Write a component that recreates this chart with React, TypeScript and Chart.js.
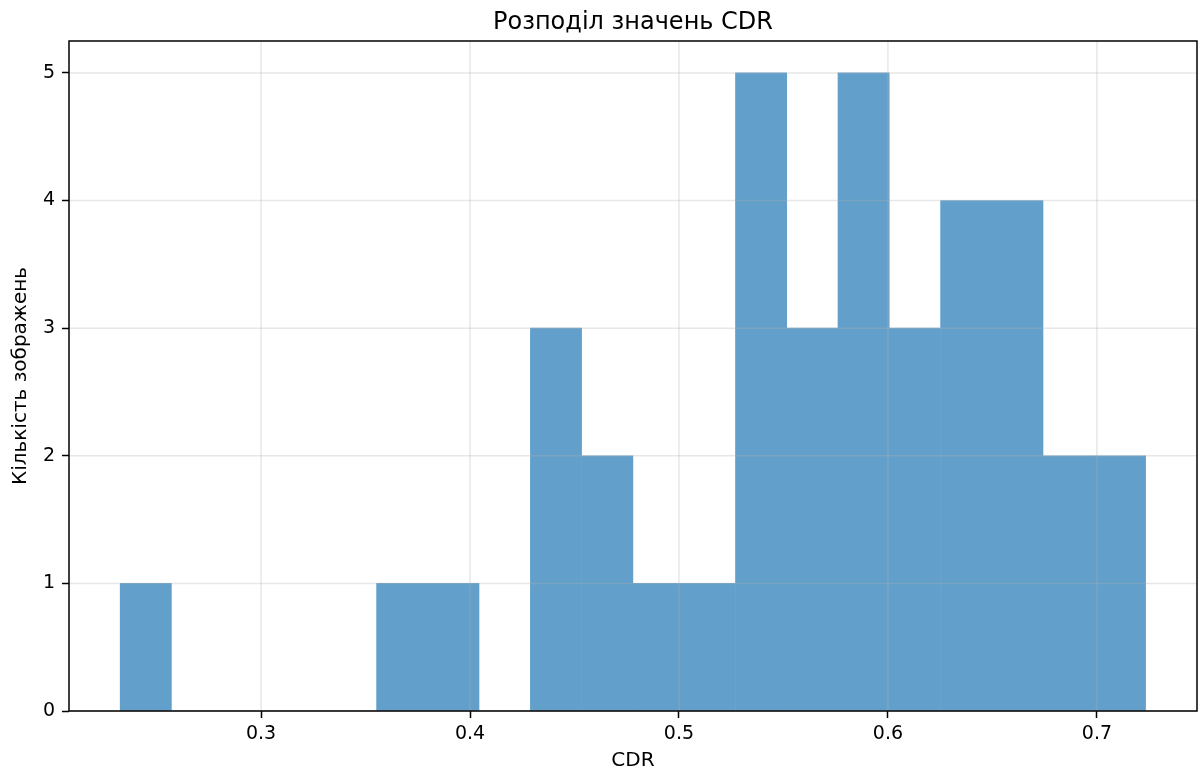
import React, { useEffect, useRef } from "react";
import { Chart, registerables } from "chart.js";

Chart.register(...registerables);

const chartTitle = "Розподіл значень CDR";
const xLabel = "CDR";
const yLabel = "Кількість зображень";

// histogram bin edges (20 bins)
const binEdges = [
  0.2326, 0.2571, 0.2817, 0.3062, 0.3307, 0.3553, 0.3798, 0.4043, 0.4289, 0.4534,
  0.478, 0.5025, 0.527, 0.5516, 0.5761, 0.6006, 0.6252, 0.6497, 0.6742, 0.6988, 0.7233,
];
// counts per bin
const counts = [1, 0, 0, 0, 0, 1, 1, 0, 3, 2, 1, 1, 5, 3, 5, 3, 4, 4, 2, 2];

const xTicks = [0.3, 0.4, 0.5, 0.6, 0.7];
const yTicks = [0, 1, 2, 3, 4, 5];
const xMin = 0.2081;
const xMax = 0.7479;
const yMin = 0;
const yMax = 5.25;

const FONT = "DejaVu Sans";

const framePlugin = {
  id: "frame",
  afterDatasetsDraw(chart: any) {
    const { ctx, chartArea } = chart;
    const { left, right, top, bottom } = chartArea;
    const xs = chart.scales.x;
    const ys = chart.scales.y;
    ctx.save();
    ctx.strokeStyle = "rgba(176,176,176,0.3)";
    ctx.lineWidth = 1.5;
    xs.ticks.forEach((t: any) => {
      const px = xs.getPixelForValue(t.value);
      ctx.beginPath();
      ctx.moveTo(px, top);
      ctx.lineTo(px, bottom);
      ctx.stroke();
    });
    ys.ticks.forEach((t: any) => {
      const py = ys.getPixelForValue(t.value);
      ctx.beginPath();
      ctx.moveTo(left, py);
      ctx.lineTo(right, py);
      ctx.stroke();
    });
    ctx.strokeStyle = "#000";
    ctx.lineWidth = 1.5;
    ctx.strokeRect(left, top, right - left, bottom - top);
    ctx.fillStyle = "#000";
    ctx.font = `24px "${FONT}"`;
    ctx.textAlign = "center";
    ctx.textBaseline = "alphabetic";
    ctx.fillText(chartTitle, (left + right) / 2, 29);
    ctx.restore();
  },
};

export default function App() {
  const ref = useRef<HTMLCanvasElement>(null);
  useEffect(() => {
    document.body.style.margin = "0";
    const data = counts.map((c, i) => ({ x: (binEdges[i] + binEdges[i + 1]) / 2, y: c }));
    const chart = new Chart(ref.current as HTMLCanvasElement, {
      type: "bar",
      data: {
        datasets: [
          {
            data: data as any,
            backgroundColor: "#62a0cb",
            borderWidth: 0,
            barPercentage: 1,
            categoryPercentage: 1,
          },
        ],
      },
      plugins: [framePlugin],
      options: {
        animation: false,
        responsive: false,
        devicePixelRatio: 1,
        layout: { padding: { left: 0, right: 3, top: 41, bottom: 0 } },
        plugins: {
          legend: { display: false },
          tooltip: { enabled: false },
          title: { display: false },
        },
        scales: {
          x: {
            type: "linear",
            min: xMin,
            max: xMax,
            offset: false,
            afterBuildTicks: (s: any) => {
              s.ticks = xTicks.map((v) => ({ value: v }));
            },
            afterFit: (s: any) => {
              s.height = 60;
            },
            grid: {
              offset: false,
              drawOnChartArea: false,
              drawTicks: true,
              tickLength: 7,
              tickColor: "#000",
              tickWidth: 1.5,
              color: "rgba(0,0,0,0)",
            },
            border: { display: false },
            ticks: {
              autoSkip: false,
              maxRotation: 0,
              padding: 5,
              color: "#000",
              font: { family: FONT, size: 19 },
              callback: (v: any) => Number(v).toFixed(1),
            },
            title: {
              display: true,
              text: xLabel,
              color: "#000",
              font: { family: FONT, size: 20, lineHeight: 1 },
              padding: { top: 0, bottom: 0 },
            },
          },
          y: {
            type: "linear",
            min: yMin,
            max: yMax,
            afterBuildTicks: (s: any) => {
              s.ticks = yTicks.map((v) => ({ value: v }));
            },
            afterFit: (s: any) => {
              s.width = 69;
            },
            grid: {
              drawOnChartArea: false,
              drawTicks: true,
              tickLength: 7,
              tickColor: "#000",
              tickWidth: 1.5,
              color: "rgba(0,0,0,0)",
            },
            border: { display: false },
            ticks: {
              autoSkip: false,
              padding: 7,
              color: "#000",
              font: { family: FONT, size: 19 },
              callback: (v: any) => String(v),
            },
            title: {
              display: true,
              text: yLabel,
              color: "#000",
              font: { family: FONT, size: 20, lineHeight: 1 },
              padding: { top: 10.5, bottom: 0 },
            },
          },
        },
      },
    });
    return () => chart.destroy();
  }, []);
  return (
    <div style={{ width: 1200, height: 771 }}>
      <canvas ref={ref} width={1200} height={771} style={{ display: "block" }} />
    </div>
  );
}
